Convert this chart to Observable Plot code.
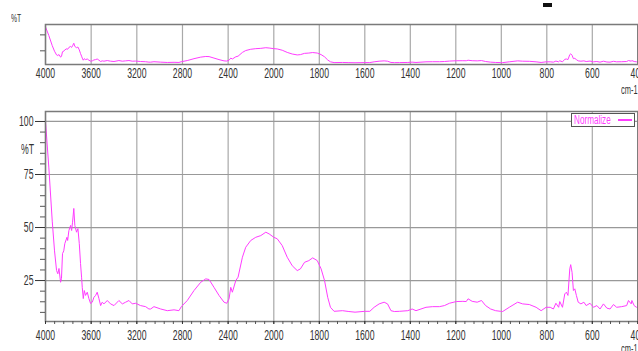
<!DOCTYPE html>
<html>
<head>
<meta charset="utf-8">
<script src="https://cdn.jsdelivr.net/npm/d3@7"></script>
<script src="https://cdn.jsdelivr.net/npm/@observablehq/plot@0.6"></script>
<style>
  html, body { margin: 0; padding: 0; background: #fff; }
  #wrap { position: relative; width: 638px; height: 351px; overflow: hidden; font-family: "Liberation Sans", Arial, sans-serif; }
  #wrap .panel { position: absolute; left: 0; }
  .lbl { position: absolute; color: #333; transform: scaleX(0.62); transform-origin: left top; white-space: nowrap; line-height: 1; }
  #legend { position: absolute; left: 571px; top: 113px; width: 62px; height: 12px; border: 1px solid #555; background: #fff; }
  #legend span { position: absolute; left: 2px; top: 0px; font-size: 12px; color: #ff3cff; transform: scaleX(0.68); transform-origin: left top; line-height: 12px; }
  #legend i { position: absolute; left: 46px; top: 5px; width: 14px; height: 1.5px; background: #ff3cff; }
  #mark { position: absolute; left: 543px; top: 3px; width: 9px; height: 4px; background: #111; }
</style>
</head>
<body>
<div id="wrap">
  <div id="top" class="panel" style="top:0px"></div>
  <div id="bot" class="panel" style="top:95px"></div>
  <span class="lbl" style="left:11px; top:13px; font-size:11px;">%T</span>
  <span class="lbl" style="left:621px; top:84px; font-size:12px;">cm-1</span>
  <span class="lbl" style="left:21px; top:142px; font-size:14px;">%T</span>
  <span class="lbl" style="left:621px; top:343px; font-size:12px;">cm-1</span>
  <div id="legend"><span>Normalize</span><i></i></div>
  <div id="mark"></div>
</div>
<script>
// Wavenumbers (cm-1) and transmittance (%T)
const wavenumber = [4000,3971,3941,3921,3903,3892,3882,3868,3860,3851,3840,3831,3812,3806,3795,3780,3771,3763,3752,3743,3728,3716,3704,3693,3684,3678,3669,3660,3649,3634,3620,3605,3590,3576,3561,3547,3532,3517,3503,3488,3459,3430,3400,3357,3327,3298,3269,3240,3210,3167,3123,3094,3079,3050,2991,2933,2874,2831,2810,2758,2699,2640,2596,2567,2524,2480,2436,2412,2392,2377,2363,2333,2313,2275,2246,2202,2158,2114,2070,2041,2000,1985,1963,1941,1919,1897,1883,1865,1846,1829,1809,1792,1777,1763,1751,1735,1698,1670,1643,1600,1578,1559,1537,1515,1500,1485,1470,1448,1411,1392,1375,1353,1331,1302,1272,1250,1228,1198,1169,1154,1146,1128,1106,1087,1069,1047,1025,1003,994,965,928,906,877,847,825,803,785,771,760,748,743,731,721,714,707,699,695,689,683,677,670,662,650,637,627,610,595,580,566,551,536,522,507,493,471,449,441,429,426,416,406,400];
const transmittance = [100,78.5,53,39,29.7,28.2,30.7,24.2,26,37.7,39,42.4,45.4,43.9,48.6,51,48.6,52.5,59,51,47.8,49.5,42.4,33,26.6,21.8,16.5,20.3,18,19.5,16.5,14.2,14.8,17.1,18,19.5,16.5,13.2,14.8,14,15.6,14,13.2,15.6,14,14.8,15.6,14,14.3,13.2,12.7,11.6,11.6,12.7,11.6,10.8,11.2,10.8,12.7,15.6,20.3,24.2,25.8,25.5,21.8,18,14.8,14.3,16.4,21.8,19.5,25,26.6,36,40.7,43.9,45.4,46.2,47.8,47,45.4,44.7,41.5,36,32,29.7,30.5,33.6,34.4,35.7,34.4,30.5,25,17.1,12.4,10.5,10.8,10.4,10.1,10.5,10.5,12.4,14,14.8,14,10.8,10.4,10.5,10.8,11.6,10.8,11.6,12.4,12.7,12.7,13.2,14.3,15.1,15.2,15.1,16.4,15.2,14.8,15.6,13.2,11.6,10.8,10.5,10.4,12.4,14.8,14,13.7,12.4,10.8,12.4,12.4,11.6,14.3,12.4,15.1,12.4,18.7,19.5,18,30.5,32.5,28.9,20.3,21.1,18,14.8,14,14.8,13.2,14.3,12.4,13.2,11.6,14,12,11.6,13.7,12.4,12.7,13.2,15.6,14,15.6,13.2,12.4,13];
const xTickLabels = [4000,3600,3200,2800,2400,2000,1800,1600,1400,1200,1000,800,600,400];
const yTickLabels = [25,50,75,100];
const topYTicks = [40,80];
const seriesName = "Normalize";

const spectrum = wavenumber.map((w, i) => ({w, t: transmittance[i]}));
const xMinor = [...d3.range(4000, 2000, -80), ...d3.range(2000, 399, -40)];
const yMinor = d3.range(10, 101, 5).filter(v => !yTickLabels.includes(v));

const lineColor = "#ff3cff";
const gridColor = "#a9a9a9";
const frameColor = "#7a7a7a";
const fmt = d => String(d);
const xScale = {type: "linear", domain: [4000, 2000, 400], range: [45, 273.3, 637.3]};
const font = {fontFamily: "'Liberation Sans', Arial, sans-serif", fontSize: "14px", color: "#333", background: "#fff", overflow: "visible"};

const topPlot = Plot.plot({
  width: 638, height: 95,
  marginTop: 24, marginBottom: 31, marginLeft: 45, marginRight: 0.7,
  x: xScale,
  y: {domain: [5.7, 106]},
  style: font,
  marks: [
    Plot.ruleX(xTickLabels, {stroke: gridColor, strokeWidth: 1.2}),
    Plot.line(spectrum, {x: "w", y: "t", stroke: lineColor, strokeWidth: 1}),
    Plot.frame({stroke: frameColor, strokeWidth: 1.5}),
    Plot.axisX(xTickLabels, {tickSize: 0, tickPadding: 4, label: null, color: "#333", tickFormat: fmt}),
    Plot.axisY(topYTicks, {tickSize: 5, text: null, label: null, color: "#555"})
  ]
});

const botPlot = Plot.plot({
  width: 638, height: 256,
  marginTop: 16, marginBottom: 30, marginLeft: 45, marginRight: 0.7,
  x: xScale,
  y: {domain: [5.7, 104.7]},
  style: font,
  marks: [
    Plot.ruleX(xTickLabels, {stroke: gridColor, strokeWidth: 1.2}),
    Plot.ruleY(yTickLabels, {stroke: "#999", strokeWidth: 1.2}),
    Plot.line(spectrum, {x: "w", y: "t", stroke: lineColor, strokeWidth: 1}),
    Plot.frame({stroke: frameColor, strokeWidth: 1.5}),
    Plot.axisX(xMinor, {tickSize: 3, text: null, label: null, color: "#555"}),
    Plot.axisX(xTickLabels, {tickSize: 3, tickPadding: 6, label: null, color: "#333", tickFormat: fmt}),
    Plot.axisY(yMinor, {tickSize: 5, text: null, label: null, color: "#555"}),
    Plot.axisY(yTickLabels, {tickSize: 10, tickPadding: 2, label: null, color: "#333", tickFormat: fmt})
  ]
});

document.getElementById("top").appendChild(topPlot);
document.getElementById("bot").appendChild(botPlot);

// condense tick labels horizontally, like the reference's narrow font
document.querySelectorAll("#wrap svg text").forEach(t => {
  const len = t.getComputedTextLength();
  if (len > 0) {
    t.setAttribute("textLength", (len * 0.62).toFixed(2));
    t.setAttribute("lengthAdjust", "spacingAndGlyphs");
  }
});
document.querySelector("#legend span").textContent = seriesName;
</script>
</body>
</html>
